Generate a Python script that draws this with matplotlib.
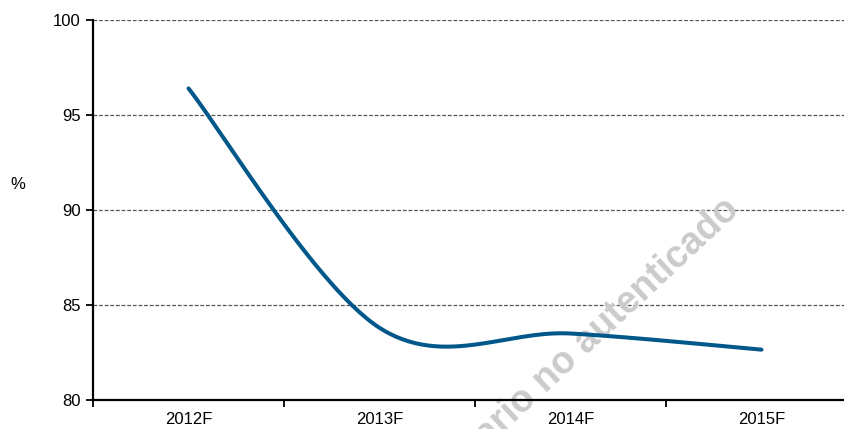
import numpy as np
import matplotlib
matplotlib.use("Agg")
import matplotlib.pyplot as plt

categories = ["2012F", "2013F", "2014F", "2015F"]
values = [96.4, 83.8, 83.5, 82.65]
y_ticks = [80, 85, 90, 95, 100]

plt.rcParams['font.family'] = ['Liberation Sans', 'DejaVu Sans']

W, H = 844, 429
fig = plt.figure(figsize=(W / 100, H / 100), dpi=100)
ax = fig.add_axes([93 / W, (H - 400) / H, 764 / W, 380 / H])

# Excel-like smoothed line (Catmull-Rom style Bezier)
x = np.arange(len(values), dtype=float)
y = np.array(values, dtype=float)
pts = np.column_stack([x, y])
n = len(pts)
curve = []
t = np.linspace(0, 1, 60)
for i in range(n - 1):
    p0 = pts[max(i - 1, 0)]
    p1 = pts[i]
    p2 = pts[i + 1]
    p3 = pts[min(i + 2, n - 1)]
    c1 = p1 + (p2 - p0) / 6.0
    c2 = p2 - (p3 - p1) / 6.0
    seg = ((1 - t) ** 3)[:, None] * p1 + (3 * (1 - t) ** 2 * t)[:, None] * c1 \
        + (3 * (1 - t) * t ** 2)[:, None] * c2 + (t ** 3)[:, None] * p2
    curve.append(seg if i == 0 else seg[1:])
curve = np.vstack(curve)

for g in y_ticks[1:]:
    ax.axhline(g, color='#555555', lw=0.9, ls=(0, (3, 1.5)), zorder=1)

ax.plot(curve[:, 0], curve[:, 1], color='#00578A', lw=2.9,
        solid_capstyle='round', zorder=4)

ax.set_xlim(-0.5, len(categories) - 0.5)
ax.set_ylim(80, 100)
ax.set_yticks(y_ticks)
ax.set_yticklabels([str(v) for v in y_ticks], fontsize=12)
ax.set_xticks(np.arange(len(categories) + 1) - 0.5)
ax.set_xticklabels([])
ax.set_xticks(np.arange(len(categories)), minor=True)
ax.set_xticklabels(categories, minor=True, fontsize=12)
ax.tick_params(axis='x', which='minor', length=0, pad=9)
ax.tick_params(axis='x', which='major', length=5, width=1.3, direction='out')
ax.tick_params(axis='y', length=5, width=1.3, direction='out', pad=4)

for s in ['top', 'right']:
    ax.spines[s].set_visible(False)
for s in ['left', 'bottom']:
    ax.spines[s].set_linewidth(1.6)
    ax.spines[s].set_color('black')

fig.text(18 / W, 1 - 185 / H, "%", fontsize=12, ha='center', va='center')

# watermark
ax.text(734 / W, 1 - 204 / H, "Usuario no autenticado", transform=fig.transFigure,
        rotation=43, rotation_mode='anchor', ha='right', va='center',
        fontsize=27, fontweight='bold', color='#cbcbcb', zorder=2, clip_on=False)

fig.savefig("out.png", dpi=100)
